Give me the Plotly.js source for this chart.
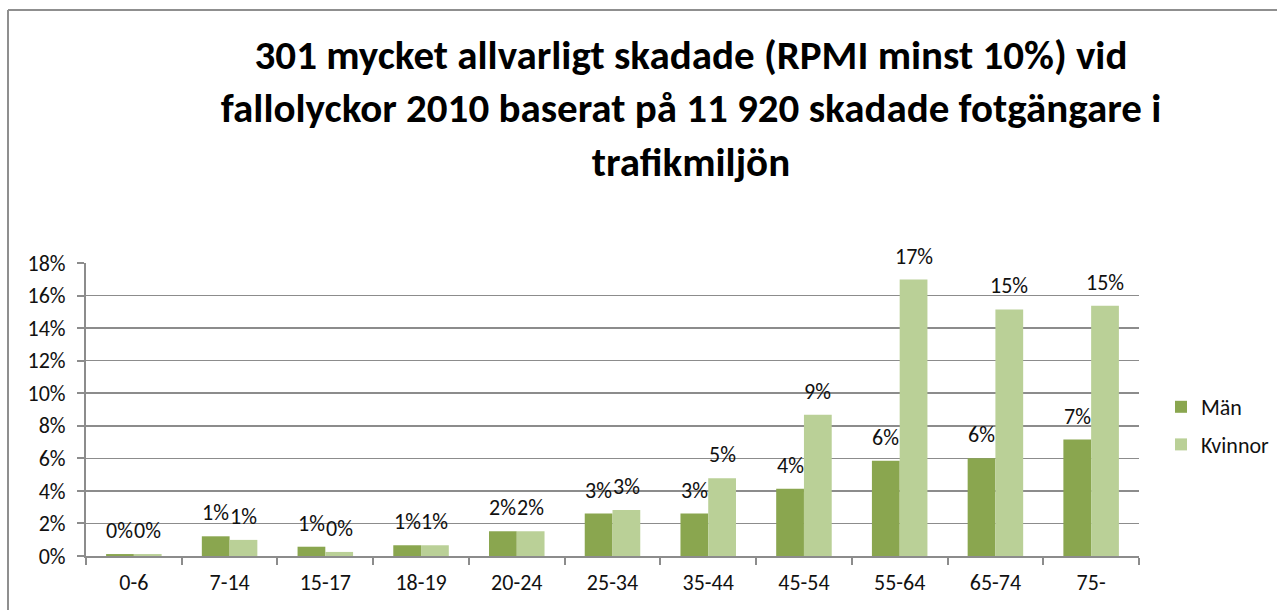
<!DOCTYPE html>
<html>
<head>
<meta charset="utf-8">
<script src="https://cdn.plot.ly/plotly-3.0.1.min.js"></script>
<style>
html,body{margin:0;padding:0;background:#fff;}
#chart{width:1277px;height:610px;}
</style>
</head>
<body>
<div id="chart"></div>
<script>
const categories = ["0-6","7-14","15-17","18-19","20-24","25-34","35-44","45-54","55-64","65-74","75-"];
const man = [0.0012,0.0121,0.0057,0.0066,0.0152,0.0261,0.0261,0.0413,0.0585,0.0600,0.0715];
const kvinnor = [0.0012,0.0099,0.0025,0.0066,0.0152,0.0283,0.0478,0.0867,0.1698,0.1515,0.1538];
const yTicks = [0,0.02,0.04,0.06,0.08,0.10,0.12,0.14,0.16,0.18];
const yTickLabels = ["0%","2%","4%","6%","8%","10%","12%","14%","16%","18%"];
const titleText = "301 mycket allvarligt skadade (RPMI minst 10%) vid<br>fallolyckor 2010 baserat på 11 920 skadade fotgängare i<br>trafikmiljön";

const W = 1277, H = 610;
const M = {l:86, r:138, t:263, b:54, autoexpand:false};
const pw = W - M.l - M.r, ph = H - M.t - M.b;
const px2x = p => (p - M.l) / pw;
const py2y = p => (H - M.b - p) / ph;
const BARGAP = 0.42;
const barW = pw / categories.length * (1 - BARGAP) / 2;

const FONT = "Carlito, Lato, 'Open Sans', sans-serif";
const pct = v => Math.round(v * 100) + '%';

const traces = [
  {type:'bar', name:'Män', x:categories, y:man, marker:{color:'#8aa64f'},
   legendgroup:'a', hoverinfo:'skip'},
  {type:'bar', name:'Kvinnor', x:categories, y:kvinnor, marker:{color:'#bad097'},
   legendgroup:'b', hoverinfo:'skip'}
];

const annotations = [];
categories.forEach((c, i) => {
  annotations.push({x:c, y:man[i], xref:'x', yref:'y', text:pct(man[i]), showarrow:false,
    xanchor:'center', yanchor:'bottom', xshift:-barW/2, yshift:8,
    font:{family:FONT,size:22,color:'#111'}});
  annotations.push({x:c, y:kvinnor[i], xref:'x', yref:'y', text:pct(kvinnor[i]), showarrow:false,
    xanchor:'center', yanchor:'bottom', xshift:barW/2, yshift:8,
    font:{family:FONT,size:22,color:'#111'}});
});

const layout = {
  width:W, height:H,
  margin:M,
  paper_bgcolor:'#fff', plot_bgcolor:'#fff',
  font:{family:FONT, size:21, color:'#111'},
  title:{text:titleText, font:{family:FONT, size:41, color:'#000', weight:'bold'},
         xref:'container', x:691/W, xanchor:'center', yref:'container', y:1-69/H, yanchor:'middle'},
  barmode:'group', bargap:BARGAP, bargroupgap:0,
  xaxis:{type:'category', showline:true, linecolor:'#8c8c8c', linewidth:2,
         ticks:'outside', tickson:'boundaries', ticklen:7, tickcolor:'#8c8c8c', tickwidth:2,
         ticklabelstandoff:6, automargin:false,
         tickfont:{family:FONT,size:22,color:'#111'}, showgrid:false, fixedrange:true},
  yaxis:{range:[0,0.18], tickvals:yTicks, ticktext:yTickLabels, showline:true, linecolor:'#8c8c8c', linewidth:2,
         ticks:'outside', ticklen:7, tickcolor:'#8c8c8c', tickwidth:2, ticklabelstandoff:7, automargin:false,
         showgrid:true, gridcolor:'#8c8c8c', gridwidth:1.5, zeroline:false,
         tickfont:{family:FONT,size:22,color:'#111'}, fixedrange:true},
  legend:{x:px2x(1161), y:py2y(386), xanchor:'left', yanchor:'top',
          font:{family:FONT,size:22,color:'#111'}, traceorder:'grouped', tracegroupgap:6,
          bgcolor:'rgba(0,0,0,0)'},
  annotations:annotations,
  shapes:[
    {type:'line', xref:'paper', yref:'paper', x0:px2x(8), x1:px2x(1290), y0:py2y(10), y1:py2y(10),
     line:{color:'#8f8f8f', width:2}},
    {type:'line', xref:'paper', yref:'paper', x0:px2x(8), x1:px2x(8), y0:py2y(10), y1:py2y(620),
     line:{color:'#8f8f8f', width:2}}
  ],
  showlegend:true
};

Plotly.newPlot('chart', traces, layout, {staticPlot:true, displayModeBar:false});
</script>
</body>
</html>
